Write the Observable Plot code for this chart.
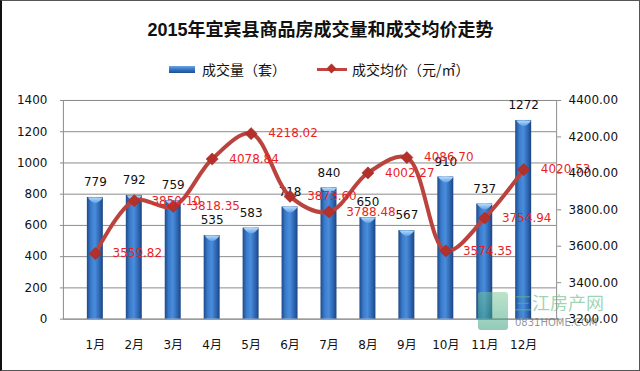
<!DOCTYPE html>
<html>
<head>
<meta charset="utf-8">
<script src="https://cdn.jsdelivr.net/npm/d3@7"></script>
<script src="https://cdn.jsdelivr.net/npm/@observablehq/plot@0.6"></script>
<style>
  html, body { margin: 0; padding: 0; background: #fff; }
  #wrap {
    position: relative; width: 640px; height: 371px; box-sizing: border-box;
    border: 1px solid #555; border-left: 2px solid #111; background: #fff; overflow: hidden;
    font-family: "DejaVu Sans", "Noto Sans CJK SC", sans-serif;
  }
  #title {
    position: absolute; left: 0; right: 0; top: 17px; text-align: center;
    font: bold 18px "Liberation Sans", "Noto Sans CJK SC", sans-serif; color: #111; line-height: 24px;
  }
  #legend {
    position: absolute; left: 0; right: 0; top: 59px; height: 18px;
    font: 14px "Noto Sans CJK SC", sans-serif; color: #111;
  }
  .li { position: absolute; top: 0; display: flex; align-items: center; height: 18px; white-space: nowrap; }
  .sw-bar { width: 26px; height: 7px; margin-right: 7px;
    background: linear-gradient(to bottom, #6ea6e6 0%, #3a78c6 45%, #1f4f91 100%); }
  .sw-line { position: relative; width: 30px; height: 18px; margin-right: 5px; }
  .sw-line .ln { position: absolute; left: 0; right: 0; top: 8px; height: 2.5px; background: #c0443f; }
  .sw-line .dm { position: absolute; left: 11px; top: 5px; width: 7px; height: 7px; background: #b3302b; transform: rotate(45deg); }
  #chart { position: absolute; left: 0; top: 80px; }
  #wm { position: absolute; left: 474px; top: 287px; width: 160px; height: 50px; pointer-events: none; white-space: nowrap; }
  #wm .logo { position: absolute; left: 2px; top: 4px; width: 30px; height: 38px; border-radius: 3px;
    background: linear-gradient(to bottom, rgba(120,200,150,0.5), rgba(40,150,120,0.5)); }
  #wm .t1 { position: absolute; left: 38px; top: 1px; font: 18px "Noto Sans CJK SC", sans-serif; color: rgba(90,185,130,0.6); }
  #wm .t2 { position: absolute; left: 39px; top: 29px; font: 10px "DejaVu Sans", sans-serif; color: rgba(100,100,100,0.7); }
</style>
</head>
<body>
<div id="wrap">
  <div id="title">2015年宜宾县商品房成交量和成交均价走势</div>
  <div id="legend">
    <div class="li" style="left:167px"><div class="sw-bar"></div><span>成交量（套）</span></div>
    <div class="li" style="left:315px"><div class="sw-line"><div class="ln"></div><div class="dm"></div></div><span>成交均价（元/㎡）</span></div>
  </div>
  <div id="chart"></div>
  <div id="wm"><div class="logo"></div><div class="t1">三江房产网</div><div class="t2">0831HOME.COM</div></div>
</div>
<script>
// ---- data ----
const months = ["1月","2月","3月","4月","5月","6月","7月","8月","9月","10月","11月","12月"];
const volume = [779, 792, 759, 535, 583, 718, 840, 650, 567, 910, 737, 1272];
const price = [3559.82, 3850.10, 3818.35, 4078.84, 4218.02, 3873.60, 3788.48, 4002.27, 4086.70, 3574.35, 3754.94, 4020.53];
const leftTicks = [0, 200, 400, 600, 800, 1000, 1200, 1400];
const rightTicks = [3200, 3400, 3600, 3800, 4000, 4200, 4400];

// map price (right axis) onto the count scale (left axis)
const pMin = 3200, pMax = 4400, cMax = 1400;
const toCount = p => (p - pMin) * cMax / (pMax - pMin);
const toPrice = c => c * (pMax - pMin) / cMax + pMin;

const rows = months.map((m, i) => ({ month: m, volume: volume[i], price: price[i], pc: toCount(price[i]) }));

// lens-shaped cap drawn at the top of each bar
const capSymbol = {
  draw(ctx) {
    ctx.moveTo(-7.5, 0);
    ctx.lineTo(7.5, 0);
    ctx.quadraticCurveTo(0, 11, -7.5, 0);
    ctx.closePath();
  }
};

const chart = Plot.plot({
  width: 638,
  height: 289,
  marginTop: 19,
  marginBottom: 51,
  marginLeft: 61,
  marginRight: 83,
  style: { fontFamily: "'DejaVu Sans', 'Noto Sans CJK SC', sans-serif", fontSize: "12px", background: "transparent", color: "#111", overflow: "visible" },
  x: { domain: months, padding: 0.58, label: null },
  y: { domain: [0, cMax], label: null },
  marks: [
    Plot.ruleY(leftTicks, { stroke: "#8c8c8c", strokeWidth: 1 }),
    Plot.frame({ stroke: "#8c8c8c" }),
    Plot.barY(rows, { x: "month", y: "volume", fill: "url(#barGrad)" }),
    Plot.dot(rows, { x: "month", y: "volume", symbol: capSymbol, r: 3, fill: "url(#capGrad)", stroke: "none" }),
    Plot.text(rows, { x: "month", y: "volume", text: d => String(d.volume), dy: -15, fill: "#111", fontSize: 12 }),
    Plot.line(rows, { x: "month", y: "pc", stroke: "#bb433e", strokeWidth: 4, curve: "catmull-rom", strokeLinejoin: "round" }),
    Plot.dot(rows, { x: "month", y: "pc", symbol: "diamond2", r: 5.5, fill: "#b3302b", stroke: "#9a2824", strokeWidth: 0.5 }),
    Plot.text(rows, { x: "month", y: "pc", text: d => d.price.toFixed(2), dx: 42, fill: "#ea1f26", fontSize: 12 }),
    Plot.axisY(leftTicks, { anchor: "left", tickSize: 3, tickPadding: 13, tickFormat: d => String(d), stroke: "#8c8c8c", fill: "#111", label: null }),
    Plot.axisY(rightTicks.map(toCount), { anchor: "right", tickSize: 4, tickPadding: 8, tickFormat: c => toPrice(c).toFixed(2), stroke: "#8c8c8c", fill: "#111", label: null }),
    Plot.axisX({ tickSize: 0, tickPadding: 21, fill: "#111", label: null })
  ]
});

d3.select(chart).insert("defs", ":first-child").html(`
  <linearGradient id="barGrad" x1="0" x2="1" y1="0" y2="0">
    <stop offset="0%" stop-color="#1d4a88"/>
    <stop offset="25%" stop-color="#3a7bcc"/>
    <stop offset="50%" stop-color="#4a8ddc"/>
    <stop offset="80%" stop-color="#2c64b0"/>
    <stop offset="100%" stop-color="#1b4580"/>
  </linearGradient>
  <linearGradient id="capGrad" x1="0" x2="0" y1="0" y2="1">
    <stop offset="0%" stop-color="#b4dbfa"/>
    <stop offset="100%" stop-color="#5d9fe6"/>
  </linearGradient>
`);

document.getElementById("chart").appendChild(chart);
</script>
</body>
</html>
